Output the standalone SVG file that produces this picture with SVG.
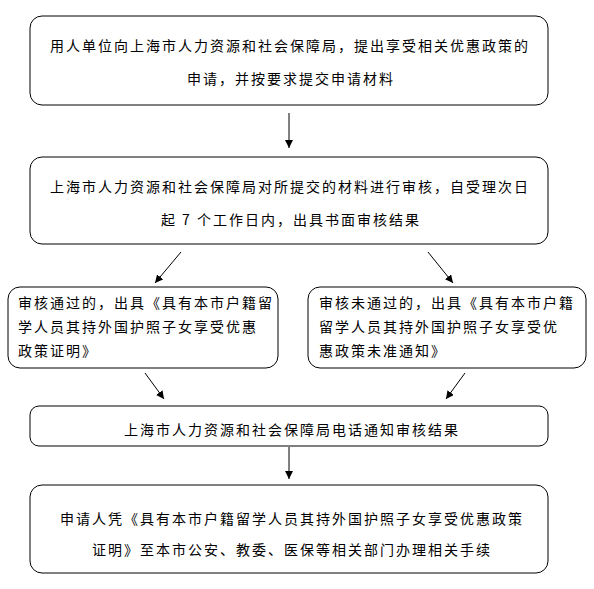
<svg xmlns="http://www.w3.org/2000/svg" width="594" height="589" viewBox="0 0 594 589">
<style>
.box{fill:#fff;stroke:#000;stroke-width:1}
.t{font-family:"Noto Sans CJK SC","Noto Sans",sans-serif;font-size:14px;fill:#000;letter-spacing:2px}
.c{text-anchor:middle}
.conn line{stroke:#000;stroke-width:1;marker-end:url(#ah)}
</style>
<defs>
<marker id="ah" viewBox="0 0 10 10" refX="10" refY="5" markerWidth="8" markerHeight="8" markerUnits="userSpaceOnUse" orient="auto">
<path d="M0,0 L10,5 L0,10 z" fill="#000"/>
</marker>
</defs>
<rect width="594" height="589" fill="#fff"/>
<g id="n1">
<rect class="box" x="30" y="16" width="518" height="89" rx="12"/>
<text class="t c" x="290" y="51">用人单位向上海市人力资源和社会保障局，提出享受相关优惠政策的</text>
<text class="t c" x="291" y="84">申请，并按要求提交申请材料</text>
</g>
<g id="n2">
<rect class="box" x="30" y="157" width="518" height="87" rx="12"/>
<text class="t c" x="290" y="192">上海市人力资源和社会保障局对所提交的材料进行审核，自受理次日</text>
<text class="t c" x="291" y="225">起 7 个工作日内，出具书面审核结果</text>
</g>
<g id="n3a">
<rect class="box" x="8" y="287" width="270" height="81" rx="12"/>
<text class="t" x="18" y="308">审核通过的，出具《具有本市户籍留</text>
<text class="t" x="18" y="332">学人员其持外国护照子女享受优惠</text>
<text class="t" x="18" y="356">政策证明》</text>
</g>
<g id="n3b">
<rect class="box" x="308" y="287" width="278" height="81" rx="12"/>
<text class="t" x="319" y="308">审核未通过的，出具《具有本市户籍</text>
<text class="t" x="319" y="332">留学人员其持外国护照子女享受优</text>
<text class="t" x="319" y="356">惠政策未准通知》</text>
</g>
<g id="n4">
<rect class="box" x="30" y="406" width="518" height="40" rx="9"/>
<text class="t c" x="292" y="435">上海市人力资源和社会保障局电话通知审核结果</text>
</g>
<g id="n5">
<rect class="box" x="30" y="485" width="518" height="88" rx="12"/>
<text class="t c" x="292" y="524">申请人凭《具有本市户籍留学人员其持外国护照子女享受优惠政策</text>
<text class="t c" x="292" y="555">证明》至本市公安、教委、医保等相关部门办理相关手续</text>
</g>
<g id="connectors" class="conn">
<line x1="289" y1="113" x2="289" y2="148"/>
<line x1="181" y1="252" x2="155" y2="283"/>
<line x1="428" y1="252" x2="453" y2="283"/>
<line x1="145" y1="373" x2="164" y2="399"/>
<line x1="465" y1="373" x2="446" y2="399"/>
<line x1="289" y1="447" x2="289" y2="479"/>
</g>
</svg>
